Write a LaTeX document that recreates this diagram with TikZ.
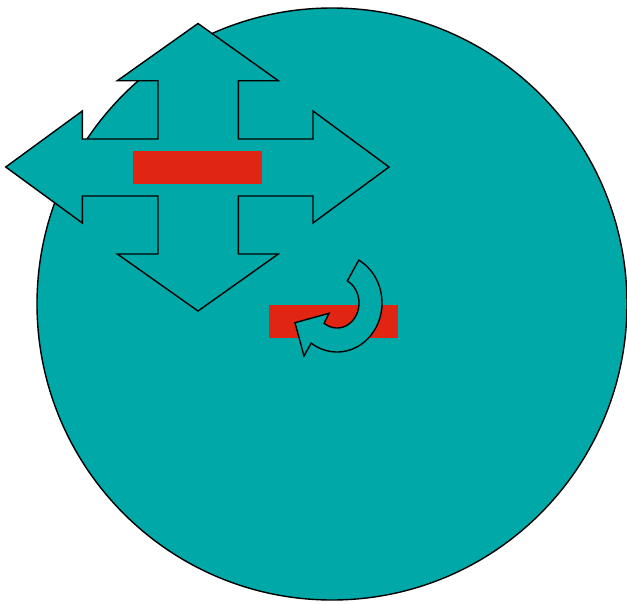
\documentclass[tikz,border=0pt]{standalone}
\definecolor{tealfill}{RGB}{0,168,168}
\definecolor{redbar}{RGB}{224,38,18}
\tikzset{
  shapeline/.style={draw=black, line width=1.4pt, fill=tealfill, line join=miter},
  redbox/.style={fill=redbar, draw=none}
}
\begin{document}
\begin{tikzpicture}[x=1pt,y=-1pt]
\useasboundingbox (0,0) rectangle (627,603);
% big circle
\draw[shapeline] (332,304) ellipse [x radius=295, y radius=296];
% four-way arrow
\draw[shapeline] (198,23.5) -- (278.3,80.7) -- (238.3,80.7) -- (238.3,139) -- (313,139) -- (313,111)
  -- (389,167) -- (313,223) -- (313,196) -- (238.3,196) -- (238.3,254) -- (278.3,254)
  -- (198,311) -- (117.3,254) -- (158,254) -- (158,196) -- (82.3,196) -- (82.3,223)
  -- (5.7,167) -- (82.3,111) -- (82.3,139) -- (158,139) -- (158,80.7) -- (117.3,80.7) -- cycle;
% red bars
\fill[redbox] (133,151) rectangle (262,184);
\fill[redbox] (269,305) rectangle (398,338);
% curved arrow
\draw[shapeline] plot[domain=-61:125, samples=60] ({337+45*cos(\x)},{303+49*sin(\x)})
  -- (304,356) -- (295,322.7) -- (329,313.3)
  -- plot[domain=126:-62, samples=40] ({337+22*cos(\x)},{303+25*sin(\x)}) -- cycle;
\end{tikzpicture}
\end{document}
